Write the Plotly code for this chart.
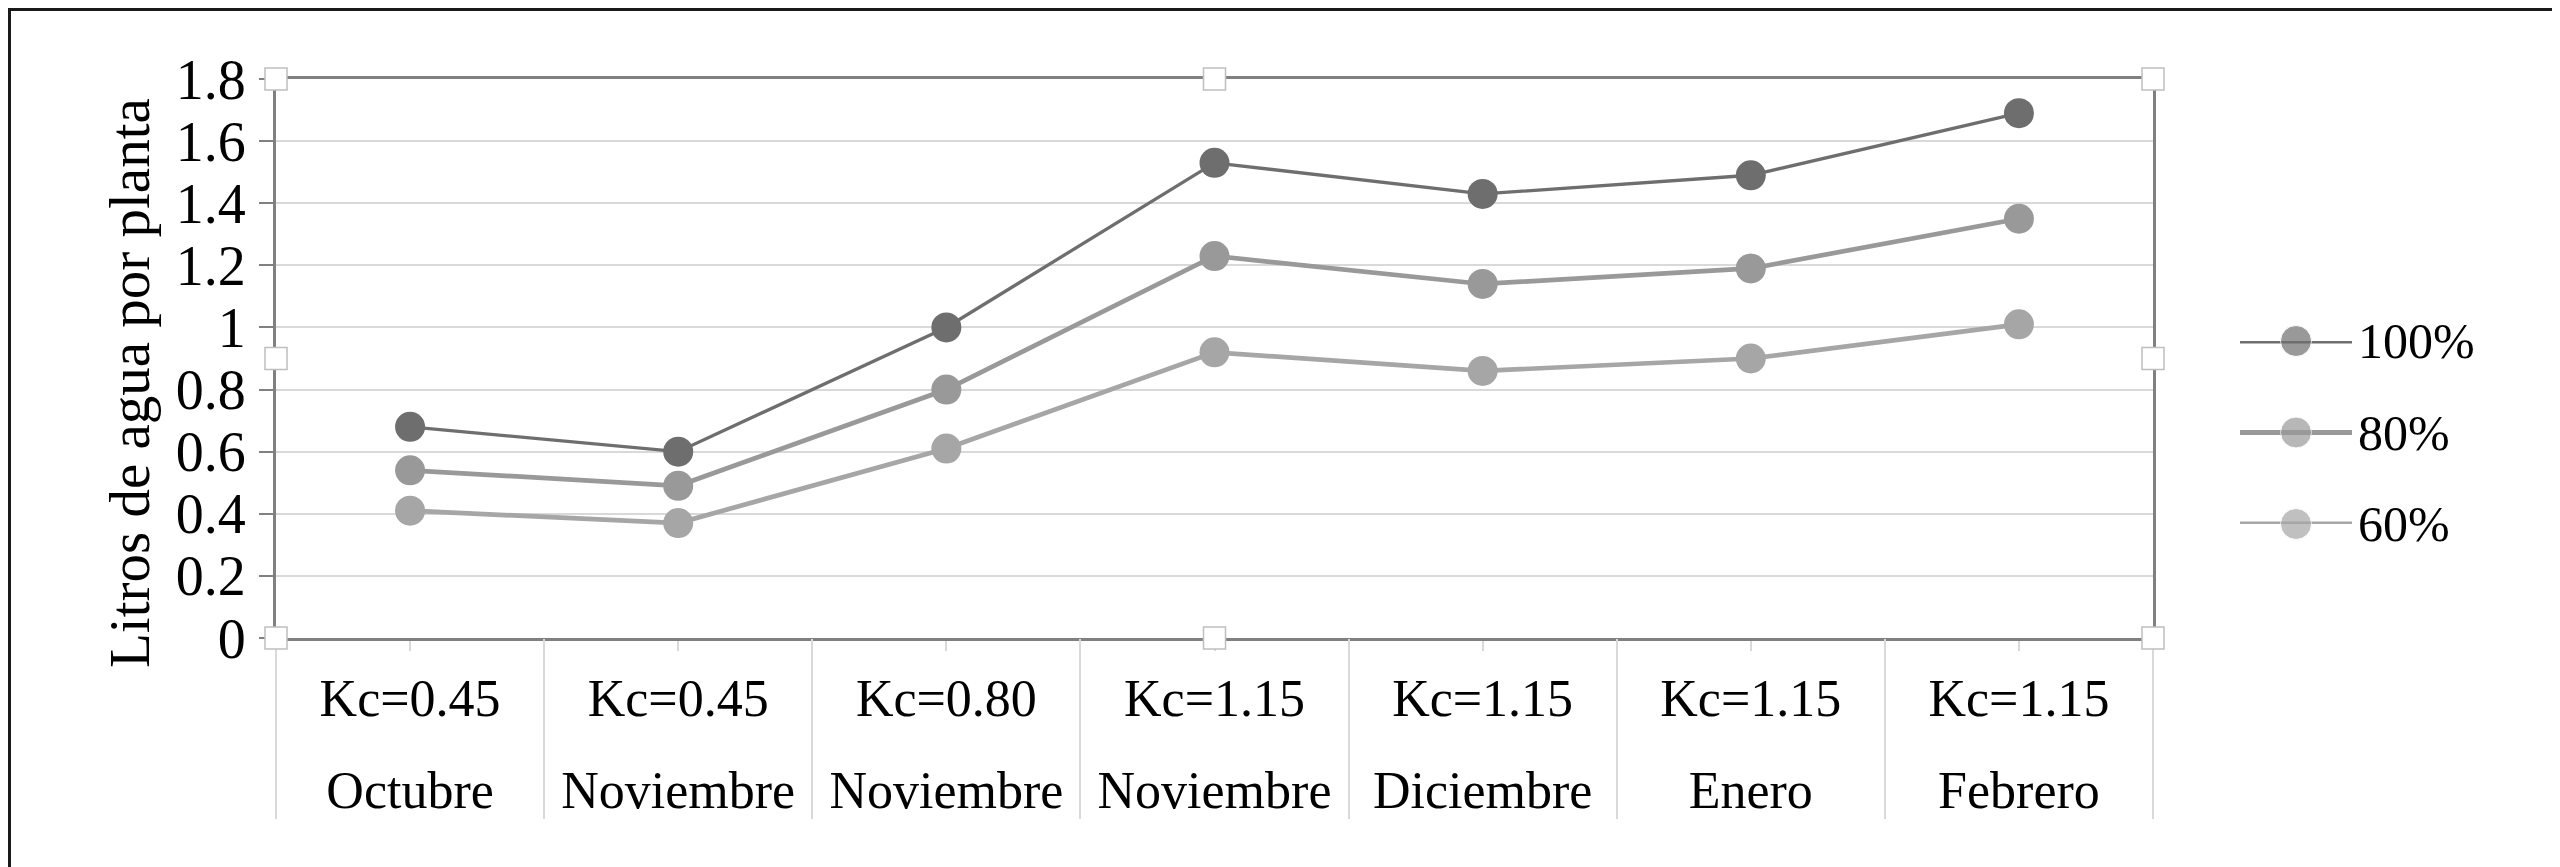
import plotly.graph_objects as go

# ---- data ----
kc_labels = ["Kc=0.45", "Kc=0.45", "Kc=0.80", "Kc=1.15", "Kc=1.15", "Kc=1.15", "Kc=1.15"]
month_labels = ["Octubre", "Noviembre", "Noviembre", "Noviembre", "Diciembre", "Enero", "Febrero"]
categories = [f"{k} {m}" for k, m in zip(kc_labels, month_labels)]

series_names = ["100%", "80%", "60%"]
s100 = [0.68, 0.60, 1.00, 1.53, 1.43, 1.49, 1.69]
s80 = [0.54, 0.49, 0.80, 1.23, 1.14, 1.19, 1.35]
s60 = [0.41, 0.37, 0.61, 0.92, 0.86, 0.90, 1.01]
series_values = [s100, s80, s60]

y_tick_vals = [0, 0.2, 0.4, 0.6, 0.8, 1.0, 1.2, 1.4, 1.6, 1.8]
y_tick_text = ["0", "0.2", "0.4", "0.6", "0.8", "1", "1.2", "1.4", "1.6", "1.8"]
y_title = "Litros de agua por planta"

# ---- style ----
colors = ["#6e6e6e", "#999999", "#a6a6a6"]
line_widths = [3.3, 4.7, 4.7]
FONT = "Liberation Serif"
W, H = 2560, 867
ML, MR, MT, MB = 268, 10, 71, 237
PW, PH = W - ML - MR, H - MT - MB
plot_right_px = 2145
D = (plot_right_px - ML) / PW


def px_x(px):
    return (px - ML) / PW


def px_y(py):
    return (H - MB - py) / PH


fig = go.Figure()

for name, vals, col, lw in zip(series_names, series_values, colors, line_widths):
    fig.add_trace(go.Scatter(
        x=categories, y=vals, name=name, mode="lines+markers",
        line=dict(color=col, width=lw), marker=dict(size=30, color=col),
        showlegend=False, xaxis="x", yaxis="y"))

# dummy traces so the overlay axes get drawn
for ax in ["x2", "x3"]:
    fig.add_trace(go.Scatter(x=[None], y=[None], xaxis=ax, yaxis="y",
                             showlegend=False, hoverinfo="skip"))

# custom legend drawn in a small auxiliary subplot
for i, (name, col) in enumerate(zip(series_names, colors)):
    fig.add_trace(go.Scatter(
        x=[0, 0.5, 1], y=[i, i, i], mode="lines+markers",
        line=dict(color=col, width=5), marker=dict(size=[0, 31, 0], color=col),
        showlegend=False, xaxis="x4", yaxis="y4", cliponaxis=False, hoverinfo="skip"))
    fig.add_annotation(x=1, y=i, xref="x4", yref="y4", text=name, showarrow=False,
                       xanchor="left", yanchor="middle", xshift=4,
                       font=dict(family=FONT, size=50, color="black"))

n = len(categories)
fig.update_layout(
    width=W, height=H,
    margin=dict(l=ML, r=MR, t=MT, b=MB),
    paper_bgcolor="white", plot_bgcolor="white",
    font=dict(family=FONT, color="black"),
    showlegend=False,
    xaxis=dict(
        type="category", categoryorder="array", categoryarray=categories,
        range=[-0.5, n - 0.5], domain=[0, D], anchor="y",
        tickmode="array", tickvals=categories, ticktext=kc_labels,
        ticks="outside", ticklen=10, tickcolor="#d9d9d9", tickwidth=2,
        showline=True, linecolor="#808080", linewidth=3, mirror=True,
        showgrid=False, zeroline=False,
        tickfont=dict(family=FONT, size=52, color="black"),
        ticklabelstandoff=3,
    ),
    xaxis2=dict(
        overlaying="x", anchor="y", side="bottom", type="linear",
        range=[-0.5, n - 0.5],
        tickmode="array", tickvals=[i - 0.5 for i in range(n + 1)],
        ticks="outside", ticklen=180, tickcolor="#d9d9d9", tickwidth=2,
        showticklabels=False, showline=False, showgrid=False, zeroline=False,
    ),
    xaxis3=dict(
        overlaying="x", anchor="y", side="bottom", type="linear",
        range=[-0.5, n - 0.5],
        tickmode="array", tickvals=list(range(n)), ticktext=month_labels,
        ticks="", showline=False, showgrid=False, zeroline=False,
        tickfont=dict(family=FONT, size=52, color="black"),
        ticklabelstandoff=117,
    ),
    yaxis=dict(
        range=[0, 1.8], domain=[0, 1], anchor="x",
        tickmode="array", tickvals=y_tick_vals, ticktext=y_tick_text,
        ticks="outside", ticklen=14, tickcolor="#808080", tickwidth=2,
        showline=True, linecolor="#808080", linewidth=3, mirror=True,
        showgrid=True, gridcolor="#d9d9d9", gridwidth=2, zeroline=False,
        tickfont=dict(family=FONT, size=56, color="black"),
        ticklabelstandoff=2,
    ),
    xaxis4=dict(domain=[px_x(2232), px_x(2344)], range=[0, 1], anchor="y4",
                visible=False, fixedrange=True),
    yaxis4=dict(domain=[px_y(516), px_y(333)], range=[2, 0], anchor="x4",
                visible=False, fixedrange=True),
)

# y-axis title
fig.add_annotation(x=px_x(121), y=px_y(375), xref="paper", yref="paper",
                   text=y_title, textangle=-90, showarrow=False,
                   xanchor="center", yanchor="middle",
                   font=dict(family=FONT, size=57, color="black"))

# outer frame
fig.add_shape(type="rect", xref="paper", yref="paper",
              x0=px_x(1.5), x1=px_x(W - 1.5), y0=px_y(H - 1.5), y1=px_y(1.5),
              line=dict(color="#1a1a1a", width=3), fillcolor="rgba(0,0,0,0)", layer="above")

# selection handles around the plot area
for hx in [0, D / 2, D]:
    for hy in [0, 0.5, 1]:
        if hx == D / 2 and hy == 0.5:
            continue
        fig.add_shape(type="rect", xref="paper", yref="paper",
                      xsizemode="pixel", ysizemode="pixel", xanchor=hx, yanchor=hy,
                      x0=-11, x1=11, y0=-11, y1=11,
                      line=dict(color="#bfbfbf", width=1.5), fillcolor="white", layer="above")

fig.write_html("out.html")
